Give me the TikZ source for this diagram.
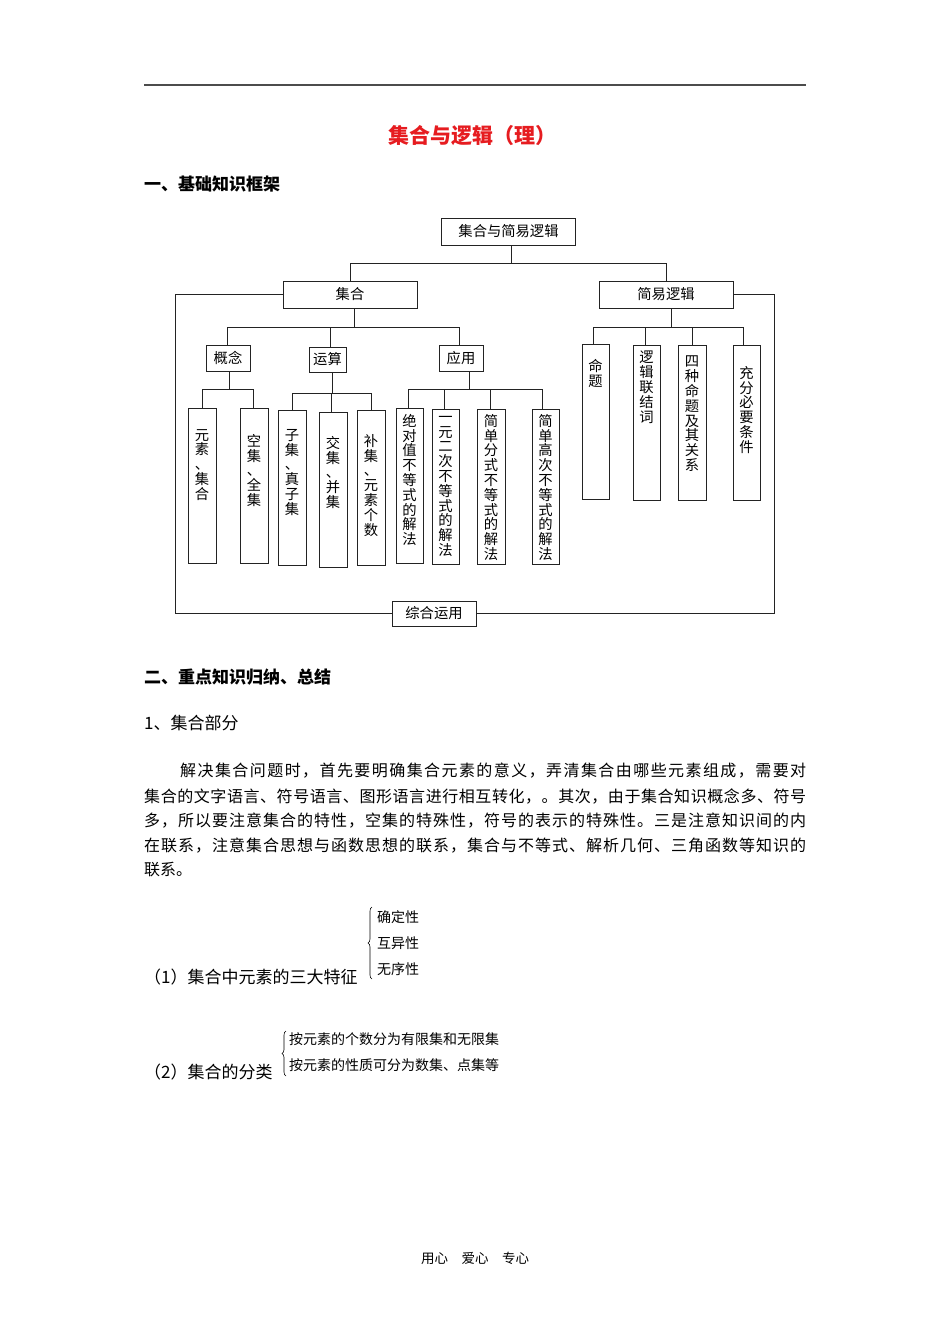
\documentclass[tikz,border=0pt]{standalone}
\usepackage{fontspec}
\setmainfont{Noto Sans CJK SC}
\usetikzlibrary{decorations.pathreplacing}
\definecolor{titlered}{RGB}{230,28,32}
\definecolor{lnc}{RGB}{35,35,35}
\XeTeXinterchartokenstate=1
\newcount\cjkcnt
\cjkcnt="3000
\loop
  \XeTeXcharclass\cjkcnt=7
  \ifnum\cjkcnt<"9FFF
  \advance\cjkcnt by 1
\repeat
\XeTeXcharclass"FF0C=7
\XeTeXcharclass"FF08=7
\XeTeXcharclass"FF09=7
\XeTeXinterchartoks 7 7 = {\hskip 0pt plus 1pt\relax}
\newcommand\dfont{\fontsize{14.3}{14.8}\selectfont}
\newcommand\hfont{\fontsize{17}{20}\selectfont}
\newcommand\pfont{\fontsize{16}{20}\selectfont}
\newcommand\ifont{\fontsize{14}{17}\selectfont}
\tikzset{
  box/.style={draw=lnc, line width=0.8pt, inner sep=0pt, font=\dfont},
  leaf/.style={draw=lnc, line width=0.8pt, inner sep=0pt, minimum width=28, minimum height=155},
  vt/.style={align=center, inner sep=0pt, font=\dfont, anchor=north},
  ln/.style={draw=lnc, line width=0.8pt},
  txt/.style={anchor=west, inner sep=0pt},
}
\begin{document}
\begin{tikzpicture}[x=1pt,y=-1pt]
\fill[white] (0,0) rectangle (950,1344);
\useasboundingbox (0,0) rectangle (950,1344);
\draw[line width=1.6pt, black!70] (144,85) -- (806,85);
\node[font=\fontsize{21}{24}\selectfont\bfseries, text=titlered] (title) at (472,136) {集合与逻辑（理）};
\node[txt, font=\hfont\bfseries] (h1) at (144,184) {一、基础知识框架};

% diagram boxes
\node[box, minimum width=134, minimum height=27] (root) at (508.5,231.5) {集合与简易逻辑};
\node[box, minimum width=134, minimum height=27] (ji) at (350,294.5) {集合};
\node[box, minimum width=134, minimum height=27] (jy) at (666,294.5) {简易逻辑};
\node[box, minimum width=44, minimum height=26] (gn) at (228,358) {概念};
\node[box, minimum width=37, minimum height=25] (ys) at (327.5,359.5) {运算};
\node[box, minimum width=44, minimum height=26] (yy) at (461,358) {应用};
\node[box, minimum width=84, minimum height=25] (zh) at (434,613.5) {综合运用};

\node[leaf] (L1) at (202,485.5) {};
\node[leaf] (L2) at (254,485.5) {};
\node[leaf] (L3) at (292,488) {};
\node[leaf] (L4) at (333,489.5) {};
\node[leaf] (L5) at (371,488) {};
\node[leaf, minimum width=27] (L6) at (409.5,485.5) {};
\node[leaf, minimum width=27] (L7) at (445.5,486.5) {};
\node[leaf] (L8) at (491,486.5) {};
\node[leaf, minimum width=27] (L9) at (545.5,486.5) {};
\node[leaf, minimum width=27] (R1) at (595.5,421.5) {};
\node[leaf, minimum width=27] (R2) at (646.5,422.5) {};
\node[leaf] (R3) at (692,422.5) {};
\node[leaf, minimum width=27] (R4) at (746.5,422.5) {};

\node[vt] (t1) at (202,429) {元\\素\\、\\集\\合};
\node[vt] (t2) at (254,434) {空\\集\\、\\全\\集};
\node[vt] (t3) at (292,429) {子\\集\\、\\真\\子\\集};
\node[vt] (t4) at (333,436) {交\\集\\、\\并\\集};
\node[vt] (t5) at (371,434) {补\\集\\、\\元\\素\\个\\数};
\node[vt] (t6) at (409.5,414) {绝\\对\\值\\不\\等\\式\\的\\解\\法};
\node[vt] (t7) at (445.5,416) {一\\元\\二\\次\\不\\等\\式\\的\\解\\法};
\node[vt] (t8) at (491,414) {简\\单\\分\\式\\不\\等\\式\\的\\解\\法};
\node[vt] (t9) at (545.5,414) {简\\单\\高\\次\\不\\等\\式\\的\\解\\法};
\node[vt] (s1) at (595.5,359) {命\\题};
\node[vt] (s2) at (646.5,351) {逻\\辑\\联\\结\\词};
\node[vt] (s3) at (692,356) {四\\种\\命\\题\\及\\其\\关\\系};
\node[vt] (s4) at (746.5,366) {充\\分\\必\\要\\条\\件};

% connectors
\draw[ln] ([xshift=2.5pt]root.south) -- ++(0,17.5) coordinate (rb);
\draw[ln] (ji.north) |- (rb) -| (jy.north);
\draw[ln] ([xshift=4pt]ji.south) -- ++(0,19) coordinate (jb);
\draw[ln] ([xshift=-1pt]gn.north) |- (jb) -| ([xshift=-2pt]yy.north);
\draw[ln] ([xshift=2.5pt]ys.north) -- ([xshift=2.5pt]ys.north |- jb);
\draw[ln] ([xshift=5pt]jy.south) -- ++(0,19) coordinate (yb0);
\draw[ln] ([xshift=-2.5pt]R1.north) |- (yb0) -| ([xshift=-3.5pt]R4.north);
\draw[ln] ([xshift=-1.5pt]R2.north) -- ([xshift=-1.5pt]R2.north |- yb0);
\draw[ln] (R3.north) -- (R3.north |- yb0);
\draw[ln] ([xshift=1pt]gn.south) -- ++(0,18) coordinate (gb);
\draw[ln] (L1.north) |- (gb) -| ([xshift=-1pt]L2.north);
\draw[ln] ([xshift=4.5pt]ys.south) -- ++(0,20.5) coordinate (yb);
\draw[ln] (L3.north) |- (yb) -| (L5.north);
\draw[ln] ([xshift=-1.5pt]L4.north) -- ([xshift=-1.5pt]L4.north |- yb);
\draw[ln] ([xshift=8pt]yy.south) -- ++(0,18) coordinate (ab);
\draw[ln] ([xshift=-1.5pt]L6.north) |- (ab) -| ([xshift=-3.5pt]L9.north);
\draw[ln] ([xshift=-1.5pt]L7.north) -- ([xshift=-1.5pt]L7.north |- ab);
\draw[ln] ([xshift=-1pt]L8.north) -- ([xshift=-1pt]L8.north |- ab);
\draw[ln] (ji.west) -- ++(-107,0) |- (zh.west);
\draw[ln] (jy.east) -- ++(41,0) |- (zh.east);

% section two
\node[txt, font=\hfont\bfseries] (h2) at (144,677) {二、重点知识归纳、总结};
\node[txt, font=\hfont] (h3) at (144,723) {1、集合部分};
\node[txt, font=\pfont] (p1) at (180,771) {\hbox to 626pt{解决集合问题时，首先要明确集合元素的意义，弄清集合由哪些元素组成，需要对}};
\node[txt, font=\pfont] (p2) at (144,796) {\hbox to 662pt{集合的文字语言、符号语言、图形语言进行相互转化，。其次，由于集合知识概念多、符号}};
\node[txt, font=\pfont] (p3) at (144,821) {\hbox to 662pt{多，所以要注意集合的特性，空集的特殊性，符号的表示的特殊性。三是注意知识间的内}};
\node[txt, font=\pfont] (p4) at (144,846) {\hbox to 662pt{在联系，注意集合思想与函数思想的联系，集合与不等式、解析几何、三角函数等知识的}};
\node[txt, font=\pfont] (p5) at (144,870) {联系。};

\node[txt, font=\hfont] (c1) at (144,977) {（1）集合中元素的三大特征};
\draw[decorate, decoration={brace, amplitude=4pt}, line width=0.6pt] (372,979) -- (372,907);
\node[txt, font=\ifont] (a1) at (377,917) {确定性};
\node[txt, font=\ifont] (a2) at (377,943) {互异性};
\node[txt, font=\ifont] (a3) at (377,969) {无序性};

\node[txt, font=\hfont] (c2) at (144,1072) {（2）集合的分类};
\draw[decorate, decoration={brace, amplitude=4pt}, line width=0.6pt] (286,1076) -- (286,1031);
\node[txt, font=\ifont] (b1) at (289,1039) {按元素的个数分为有限集和无限集};
\node[txt, font=\ifont] (b2) at (289,1065) {按元素的性质可分为数集、点集等};

\node[font=\fontsize{13.5}{16}\selectfont] (ft) at (475,1258) {用心　爱心　专心};
\end{tikzpicture}
\end{document}
